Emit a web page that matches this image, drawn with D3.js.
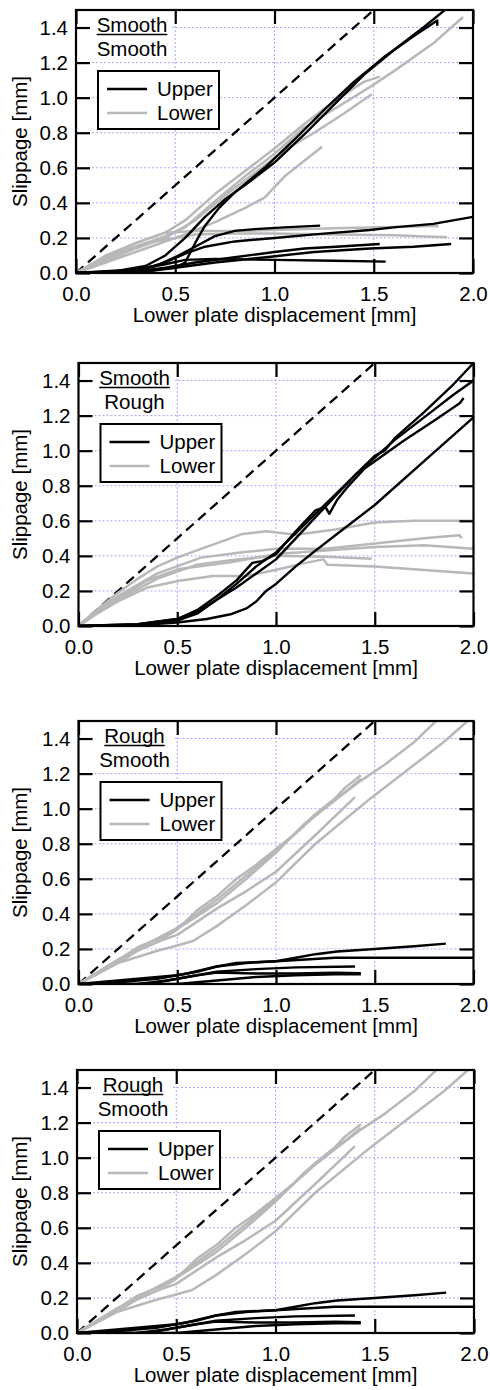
<!DOCTYPE html>
<html>
<head>
<meta charset="utf-8">
<script src="https://cdn.jsdelivr.net/npm/d3@7"></script>
<style>
  body { margin: 0; background: #fff; }
  text { font-family: "Liberation Sans", Arial, sans-serif; }
</style>
</head>
<body>
<div class="chartBox"></div>
<script>
var W = 490, H = 1390;

var xTicks = [0, 0.5, 1.0, 1.5, 2.0];
var yTicks = [0, 0.2, 0.4, 0.6, 0.8, 1.0, 1.2, 1.4];
var legendLabels = ['Upper', 'Lower'];
var xLabel = 'Lower plate displacement [mm]';
var yLabel = 'Slippage [mm]';
var titles = [['Smooth', 'Smooth'], ['Smooth', 'Rough'], ['Rough', 'Smooth'], ['Rough', 'Smooth']];

// Smooth / Smooth  -- each run is a list of [displacement, slippage]
var ssUpper = [
  [[0,0],[0.2,0.01],[0.35,0.04],[0.45,0.1],[0.55,0.2],[0.65,0.32],[0.75,0.42],[0.85,0.5],[1.0,0.63],[1.15,0.79],[1.3,0.96],[1.45,1.13],[1.6,1.27],[1.75,1.4],[1.88,1.52]],
  [[0,0],[0.3,0.01],[0.5,0.03],[0.55,0.06],[0.6,0.17],[0.65,0.27],[0.72,0.37],[0.8,0.46],[0.95,0.6],[1.1,0.76],[1.25,0.93],[1.4,1.09],[1.55,1.23],[1.7,1.35],[1.82,1.44],[1.82,1.41]],
  [[0,0],[0.25,0.01],[0.4,0.04],[0.5,0.09],[0.6,0.15],[0.7,0.21],[0.8,0.24],[0.9,0.25],[1.05,0.26],[1.23,0.27]],
  [[0,0],[0.3,0.01],[0.45,0.06],[0.55,0.11],[0.65,0.15],[0.8,0.18],[1.0,0.2],[1.2,0.22],[1.48,0.245],[1.6,0.26],[1.8,0.28],[2.0,0.32]],
  [[0.25,0],[0.45,0.03],[0.6,0.06],[0.8,0.09],[1.0,0.12],[1.15,0.14],[1.31,0.15],[1.45,0.16],[1.53,0.165]],
  [[0.3,0],[0.5,0.03],[0.7,0.06],[0.98,0.093],[1.2,0.12],[1.48,0.14],[1.7,0.15],[1.89,0.165]],
  [[0,0],[0.3,0.02],[0.45,0.05],[0.55,0.075],[0.7,0.08],[1.0,0.075],[1.3,0.07],[1.56,0.065]]
];
var ssLower = [
  [[0,0],[0.15,0.09],[0.3,0.17],[0.45,0.23],[0.55,0.3],[0.7,0.45],[0.85,0.58],[1.0,0.71],[1.15,0.85],[1.3,0.98],[1.45,1.09],[1.53,1.12]],
  [[0,0],[0.15,0.08],[0.3,0.15],[0.45,0.21],[0.55,0.26],[0.7,0.41],[0.85,0.55],[1.0,0.68],[1.15,0.83],[1.48,1.06],[1.6,1.15],[1.8,1.31],[1.95,1.46]],
  [[0,0],[0.15,0.07],[0.3,0.14],[0.45,0.2],[0.6,0.3],[0.75,0.44],[0.9,0.57],[1.05,0.7],[1.2,0.8],[1.35,0.91],[1.49,1.02]],
  [[0,0],[0.2,0.08],[0.4,0.16],[0.55,0.22],[0.7,0.29],[0.85,0.37],[0.95,0.43],[1.05,0.55],[1.15,0.64],[1.24,0.72]],
  [[0,0],[0.15,0.1],[0.3,0.17],[0.45,0.23],[0.6,0.24],[0.8,0.24],[0.98,0.245],[1.3,0.255],[1.48,0.26],[1.7,0.265],[1.82,0.27],[1.82,0.26]],
  [[0,0],[0.2,0.11],[0.35,0.17],[0.5,0.2],[0.6,0.22],[0.8,0.225],[0.98,0.225],[1.3,0.22],[1.6,0.215],[1.87,0.204]]
];

// Smooth / Rough
var srUpper = [
  [[0,0],[0.3,0.005],[0.5,0.03],[0.6,0.07],[0.7,0.15],[0.8,0.24],[0.9,0.34],[1.0,0.42],[1.1,0.53],[1.2,0.64],[1.3,0.75],[1.4,0.86],[1.5,0.97],[1.55,1.0],[1.6,1.07],[1.75,1.22],[1.9,1.38],[2.0,1.5]],
  [[0,0],[0.3,0.01],[0.5,0.04],[0.6,0.08],[0.7,0.15],[0.8,0.22],[0.9,0.3],[1.0,0.38],[1.1,0.5],[1.2,0.62],[1.3,0.74],[1.4,0.86],[1.5,0.96],[1.6,1.06],[1.75,1.19],[1.9,1.32],[2.0,1.4]],
  [[0,0],[0.3,0.01],[0.5,0.04],[0.6,0.09],[0.7,0.17],[0.8,0.26],[0.88,0.36],[0.93,0.37],[1.0,0.41],[1.1,0.54],[1.2,0.66],[1.25,0.68],[1.27,0.64],[1.31,0.72],[1.36,0.79],[1.45,0.9],[1.5,0.94],[1.65,1.06],[1.8,1.17],[1.93,1.27],[1.95,1.3]],
  [[0,0],[0.3,0.005],[0.5,0.02],[0.65,0.04],[0.77,0.067],[0.85,0.1],[0.9,0.14],[0.95,0.2],[1.0,0.24],[1.1,0.34],[1.2,0.43],[1.35,0.56],[1.5,0.69],[1.75,0.94],[2.0,1.19]]
];
var srLower = [
  [[0,0],[0.1,0.1],[0.2,0.19],[0.3,0.27],[0.4,0.34],[0.5,0.39],[0.62,0.44],[0.72,0.48],[0.83,0.525],[0.95,0.54],[1.1,0.52],[1.3,0.55],[1.5,0.59],[1.7,0.6],[2.0,0.6]],
  [[0,0],[0.1,0.09],[0.2,0.17],[0.4,0.3],[0.62,0.39],[0.83,0.42],[1.0,0.44],[1.25,0.44],[1.5,0.47],[1.75,0.5],[1.93,0.517],[1.94,0.5]],
  [[0,0],[0.1,0.085],[0.2,0.16],[0.35,0.26],[0.51,0.325],[0.77,0.364],[1.0,0.41],[1.25,0.43],[1.5,0.45],[1.75,0.46],[2.0,0.44]],
  [[0,0],[0.1,0.08],[0.2,0.15],[0.4,0.27],[0.6,0.35],[0.8,0.38],[1.0,0.4],[1.25,0.395],[1.485,0.384]],
  [[0,0],[0.1,0.075],[0.2,0.14],[0.35,0.22],[0.51,0.258],[0.68,0.285],[0.85,0.285],[1.02,0.325],[1.15,0.36],[1.24,0.38],[1.26,0.35],[1.5,0.34],[1.75,0.32],[2.0,0.3]]
];

// Rough / Smooth (same runs shown in the 3rd and 4th panels)
var rsUpper = [
  [[0,0],[0.1,0.01],[0.3,0.03],[0.5,0.05],[0.6,0.07],[0.7,0.1],[0.8,0.12],[1.0,0.13],[1.1,0.15],[1.2,0.17],[1.31,0.185],[1.5,0.2],[1.7,0.215],[1.86,0.23]],
  [[0,0],[0.2,0.01],[0.4,0.03],[0.55,0.06],[0.7,0.1],[0.85,0.12],[1.0,0.13],[1.15,0.14],[1.3,0.15],[1.6,0.15],[2.0,0.15]],
  [[0,0],[0.35,0.0],[0.45,0.02],[0.6,0.05],[0.7,0.07],[0.9,0.085],[1.1,0.095],[1.4,0.1]],
  [[0.3,0],[0.45,0.02],[0.6,0.05],[0.7,0.065],[0.9,0.06],[1.1,0.06],[1.3,0.065],[1.43,0.062]],
  [[0,0],[0.5,0.0],[0.7,0.02],[0.9,0.04],[1.1,0.05],[1.3,0.055],[1.43,0.055]]
];
var rsLower = [
  [[0,0],[0.1,0.06],[0.2,0.12],[0.3,0.19],[0.4,0.24],[0.5,0.31],[0.6,0.42],[0.7,0.5],[0.8,0.6],[0.9,0.68],[1.0,0.77],[1.1,0.86],[1.2,0.96],[1.3,1.05],[1.43,1.16],[1.55,1.25],[1.7,1.38],[1.81,1.5],[1.85,1.55]],
  [[0,0],[0.1,0.07],[0.3,0.2],[0.5,0.32],[0.55,0.36],[0.7,0.48],[0.85,0.62],[1.0,0.76],[1.1,0.86],[1.2,0.97],[1.3,1.06],[1.35,1.12],[1.43,1.19]],
  [[0,0],[0.15,0.1],[0.3,0.21],[0.45,0.28],[0.55,0.35],[0.7,0.46],[0.85,0.6],[1.0,0.75],[1.15,0.92],[1.3,1.05],[1.43,1.17]],
  [[0,0],[0.2,0.14],[0.4,0.24],[0.5,0.28],[0.7,0.43],[0.85,0.53],[1.0,0.64],[1.2,0.85],[1.4,1.066]],
  [[0,0],[0.2,0.12],[0.4,0.19],[0.5,0.22],[0.58,0.245],[0.7,0.33],[0.85,0.45],[1.0,0.58],[1.2,0.8],[1.48,1.06],[1.7,1.25],[1.85,1.38],[1.97,1.5]]
];

var identity = [[0,0],[1.5,1.5]];

var panels = [
  { top: 10,   left: 76,   w: 397, upper: ssUpper, lower: ssLower, title: titles[0] },
  { top: 363,  left: 78.5, w: 395, upper: srUpper, lower: srLower, title: titles[1] },
  { top: 721,  left: 78.5, w: 395, upper: rsUpper, lower: rsLower, title: titles[2] },
  { top: 1070, left: 77,   w: 397, upper: rsUpper, lower: rsLower, title: titles[3] }
];
var h = 263;
var upperColor = '#000', lowerColor = '#b8b8b8', gridColor = '#a9a9ff';

var svg = d3.select('div.chartBox')
  .append('svg')
  .attr('width', W)
  .attr('height', H);

panels.forEach(function(p, i) {
  var x = d3.scaleLinear().domain([0, 2]).range([0, p.w]);
  var y = d3.scaleLinear().domain([0, 1.5]).range([h, 0]);

  var g = svg.append('g').attr('transform', 'translate(' + p.left + ',' + p.top + ')');

  g.append('clipPath').attr('id', 'clip' + i)
    .append('rect').attr('width', p.w).attr('height', h);

  // dotted grid
  g.selectAll('line.gx')
    .data(xTicks.slice(1, -1))
    .enter().append('line')
    .attr('x1', function(d) { return x(d) }).attr('x2', function(d) { return x(d) })
    .attr('y1', 0).attr('y2', h)
    .attr('stroke', gridColor).attr('stroke-width', 1).attr('stroke-dasharray', '2,2');
  g.selectAll('line.gy')
    .data(yTicks.slice(1))
    .enter().append('line')
    .attr('x1', 0).attr('x2', p.w)
    .attr('y1', function(d) { return y(d) }).attr('y2', function(d) { return y(d) })
    .attr('stroke', gridColor).attr('stroke-width', 1).attr('stroke-dasharray', '2,2');

  var line = d3.line().x(function(d) { return x(d[0]) }).y(function(d) { return y(d[1]) });
  var plot = g.append('g').attr('clip-path', 'url(#clip' + i + ')');

  plot.append('path').datum(identity)
    .attr('d', line).attr('fill', 'none')
    .attr('stroke', '#000').attr('stroke-width', 2.3).attr('stroke-dasharray', '10,6');

  plot.selectAll('path.lower')
    .data(p.lower).enter().append('path')
    .attr('class', 'lower').attr('d', line).attr('fill', 'none')
    .attr('stroke', lowerColor).attr('stroke-width', 2.5).attr('stroke-linejoin', 'round');

  plot.selectAll('path.upper')
    .data(p.upper).enter().append('path')
    .attr('class', 'upper').attr('d', line).attr('fill', 'none')
    .attr('stroke', upperColor).attr('stroke-width', 2.4).attr('stroke-linejoin', 'round');

  // ticks on all four sides, pointing inwards
  var axL = g.append('g').call(d3.axisLeft(y).tickValues(yTicks).tickSize(-14).tickPadding(8).tickFormat(d3.format('.1f')));
  var axB = g.append('g').attr('transform', 'translate(0,' + h + ')')
    .call(d3.axisBottom(x).tickValues(xTicks).tickSize(-14).tickPadding(13).tickFormat(d3.format('.1f')));
  var axR = g.append('g').attr('transform', 'translate(' + p.w + ',0)')
    .call(d3.axisRight(y).tickValues(yTicks).tickSize(-14).tickFormat(''));
  var axT = g.append('g')
    .call(d3.axisTop(x).tickValues(xTicks).tickSize(-14).tickFormat(''));
  [axL, axB, axR, axT].forEach(function(a) {
    a.select('.domain').remove();
    a.selectAll('line').attr('stroke', '#000').attr('stroke-width', 2.2);
    a.selectAll('text').attr('font-size', 20.5).attr('fill', '#000')
      .attr('font-family', '"Liberation Sans", Arial, sans-serif');
  });

  g.append('rect').attr('width', p.w).attr('height', h)
    .attr('fill', 'none').attr('stroke', '#000').attr('stroke-width', 2.2);

  // surface title
  g.append('rect').attr('x', 16).attr('y', 4).attr('width', 80).attr('height', 48).attr('fill', '#fff');
  var t1 = g.append('text').attr('x', 56).attr('y', 22).attr('text-anchor', 'middle')
    .attr('font-size', 20.5).attr('fill', '#000').text(p.title[0]);
  var tw = t1.node().getComputedTextLength();
  g.append('line').attr('x1', 56 - tw / 2).attr('x2', 56 + tw / 2)
    .attr('y1', 24.5).attr('y2', 24.5).attr('stroke', '#000').attr('stroke-width', 1.5);
  g.append('text').attr('x', 56).attr('y', 46).attr('text-anchor', 'middle')
    .attr('font-size', 20.5).attr('fill', '#000').text(p.title[1]);

  // legend
  var lg = g.append('g').attr('transform', 'translate(22,61)');
  lg.append('rect').attr('width', 121).attr('height', 58)
    .attr('fill', '#fff').attr('stroke', '#000').attr('stroke-width', 2);
  lg.selectAll('line.key')
    .data(legendLabels).enter().append('line')
    .attr('x1', 9).attr('x2', 49)
    .attr('y1', function(d, k) { return 18 + k * 24 }).attr('y2', function(d, k) { return 18 + k * 24 })
    .attr('stroke', function(d, k) { return k === 0 ? upperColor : lowerColor })
    .attr('stroke-width', 2.4);
  lg.selectAll('text.key')
    .data(legendLabels).enter().append('text')
    .attr('x', 59).attr('y', function(d, k) { return 25 + k * 24 })
    .attr('font-size', 20.5).attr('fill', '#000')
    .text(function(d) { return d });

  // axis titles
  g.append('text').attr('x', p.w / 2).attr('y', h + 49).attr('text-anchor', 'middle')
    .attr('font-size', 20.5).attr('fill', '#000').text(xLabel);
  g.append('text').attr('transform', 'translate(' + (27 - p.left) + ',' + (h / 2) + ') rotate(-90)')
    .attr('text-anchor', 'middle').attr('font-size', 20.5).attr('fill', '#000').text(yLabel);
});
</script>
</body>
</html>
